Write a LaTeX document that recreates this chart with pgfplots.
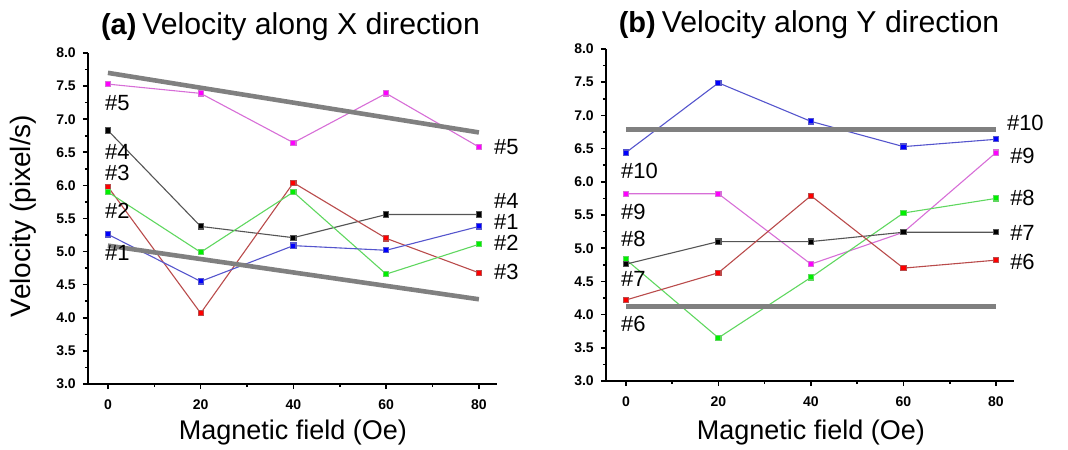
\documentclass[border=0pt]{standalone}
\usepackage{pgfplots}
\pgfplotsset{compat=1.18}
\usepackage{fontspec}
\setmainfont{Liberation Sans}
\definecolor{mMag}{RGB}{255,0,255}\definecolor{lMag}{RGB}{215,110,215}
\definecolor{mRed}{RGB}{255,0,0}\definecolor{lRed}{RGB}{185,75,75}
\definecolor{mGrn}{RGB}{0,240,0}\definecolor{lGrn}{RGB}{95,215,95}
\definecolor{mBlu}{RGB}{0,0,255}\definecolor{lBlu}{RGB}{85,85,205}
\definecolor{mBlk}{RGB}{0,0,0}\definecolor{lBlk}{RGB}{85,85,85}
\definecolor{trend}{RGB}{128,128,128}
\tikzset{lab/.style={font=\fontsize{11}{12}\selectfont, inner sep=0pt}}
\pgfplotsset{
  panel/.style={scale only axis, xmin=-4.3, xmax=83.9, ymin=3, ymax=8,
    axis x line*=bottom, axis y line*=left, axis line style={line width=1pt},
    clip=false,
    xtick={0,20,40,60,80}, minor xtick={10,30,50,70},
    ytick={3,3.5,...,8}, minor ytick={3.25,3.75,...,7.75},
    tick align=outside, major tick length=2.6pt, minor tick length=1.6pt,
    every tick/.style={black, line width=0.8pt},
    ticklabel style={font=\bfseries\fontsize{7}{8}\selectfont},
    yticklabel style={/pgf/number format/.cd, fixed, fixed zerofill, precision=1},
    /pgf/number format/assume math mode=true,
    xticklabel style={yshift=-1.5pt},
    xlabel style={font=\fontsize{13.5}{15}\selectfont, anchor=center},
    ylabel style={font=\fontsize{14}{16}\selectfont, anchor=center},
  },
  ser/.style 2 args={color=#2, line width=0.55pt, mark=square*, mark size=1.3pt,
    mark options={draw=none, fill=#1, solid}},
  tr/.style={color=trend, line width=2.3pt, mark=none},
}
\begin{document}
\begin{tikzpicture}
\useasboundingbox (0,0) rectangle (534pt,224.5pt);
% ---------- panel (a)
\begin{axis}[panel, at={(44pt,32.5pt)}, anchor=south west, width=204.5pt, height=165.5pt,
  xlabel={Magnetic field (Oe)}, xlabel style={at={(axis description cs:0.501,-0.148)}},
  ylabel={Velocity (pixel/s)}, ylabel style={at={(axis description cs:-0.158,0.508)}}]
\addplot[ser={mMag}{lMag}] coordinates {(0,7.53) (20,7.39) (40,6.645) (60,7.39) (80,6.58)};
\addplot[ser={mBlk}{lBlk}] coordinates {(0,6.83) (20,5.38) (40,5.21) (60,5.56) (80,5.56)};
\addplot[ser={mRed}{lRed}] coordinates {(0,5.98) (20,4.07) (40,6.04) (60,5.20) (80,4.68)};
\addplot[ser={mGrn}{lGrn}] coordinates {(0,5.90) (20,4.99) (40,5.90) (60,4.66) (80,5.11)};
\addplot[ser={mBlu}{lBlu}] coordinates {(0,5.26) (20,4.55) (40,5.09) (60,5.02) (80,5.38)};
\addplot[tr] coordinates {(0,7.70) (80,6.80)};
\addplot[tr] coordinates {(0,5.09) (80,4.28)};
\node[lab, anchor=west] at (axis cs:-0.7,7.24) {\#5};
\node[lab, anchor=west] at (axis cs:-0.7,6.50) {\#4};
\node[lab, anchor=west] at (axis cs:-0.7,6.19) {\#3};
\node[lab, anchor=west] at (axis cs:-0.7,5.61) {\#2};
\node[lab, anchor=west] at (axis cs:-0.7,4.98) {\#1};
\node[lab, anchor=west] at (axis cs:83.2,6.58) {\#5};
\node[lab, anchor=west] at (axis cs:83.2,5.77) {\#4};
\node[lab, anchor=west] at (axis cs:83.2,5.45) {\#1};
\node[lab, anchor=west] at (axis cs:83.2,5.14) {\#2};
\node[lab, anchor=west] at (axis cs:83.2,4.69) {\#3};
\node[anchor=center, inner sep=0pt] at (axis description cs:0.495,1.079)
  {{\fontsize{14.5}{16}\selectfont\bfseries (a)}\hspace{3pt}{\fontsize{15.1}{17}\selectfont Velocity along X direction}};
\end{axis}
% ---------- panel (b)
\begin{axis}[panel, at={(303pt,34pt)}, anchor=south west, width=204pt, height=166pt,
  xlabel={Magnetic field (Oe)}, xlabel style={at={(axis description cs:0.502,-0.154)}}]
\addplot[ser={mBlu}{lBlu}] coordinates {(0,6.44) (20,7.49) (40,6.91) (60,6.53) (80,6.64)};
\addplot[ser={mMag}{lMag}] coordinates {(0,5.82) (20,5.82) (40,4.76) (60,5.24) (80,6.44)};
\addplot[ser={mGrn}{lGrn}] coordinates {(0,4.83) (20,3.65) (40,4.56) (60,5.53) (80,5.75)};
\addplot[ser={mBlk}{lBlk}] coordinates {(0,4.76) (20,5.10) (40,5.10) (60,5.24) (80,5.24)};
\addplot[ser={mRed}{lRed}] coordinates {(0,4.22) (20,4.63) (40,5.79) (60,4.70) (80,4.82)};
\addplot[tr] coordinates {(0,6.79) (80,6.79)};
\addplot[tr] coordinates {(0,4.12) (80,4.12)};
\node[lab, anchor=west] at (axis cs:-1.1,6.17) {\#10};
\node[lab, anchor=west] at (axis cs:-1.1,5.55) {\#9};
\node[lab, anchor=west] at (axis cs:-1.1,5.14) {\#8};
\node[lab, anchor=west] at (axis cs:-1.1,4.53) {\#7};
\node[lab, anchor=west] at (axis cs:-1.1,3.86) {\#6};
\node[lab, anchor=west] at (axis cs:82.3,6.88) {\#10};
\node[lab, anchor=west] at (axis cs:83.0,6.39) {\#9};
\node[lab, anchor=west] at (axis cs:83.0,5.76) {\#8};
\node[lab, anchor=west] at (axis cs:83.0,5.23) {\#7};
\node[lab, anchor=west] at (axis cs:83.0,4.79) {\#6};
\node[anchor=center, inner sep=0pt] at (axis description cs:0.4975,1.072)
  {{\fontsize{14.5}{16}\selectfont\bfseries (b)}\hspace{3pt}{\fontsize{15.1}{17}\selectfont Velocity along Y direction}};
\end{axis}
\end{tikzpicture}
\end{document}
